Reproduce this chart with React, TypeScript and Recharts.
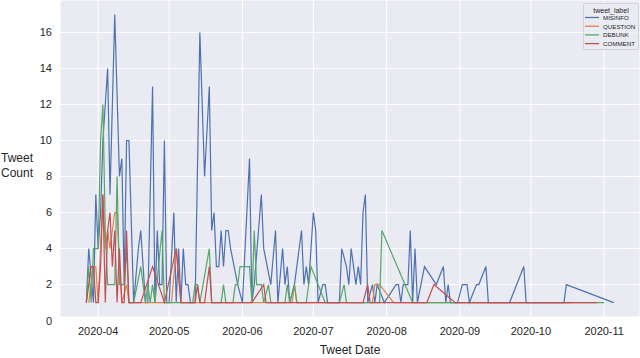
import { LineChart, Line, XAxis, YAxis, CartesianGrid } from 'recharts'

const YEAR = '2020'
const monthTicks = ['2020-04', '2020-05', '2020-06', '2020-07', '2020-08', '2020-09', '2020-10', '2020-11']
const yTicks = [0, 2, 4, 6, 8, 10, 12, 14, 16]
const seriesNames = ['MISINFO', 'QUESTION', 'DEBUNK', 'COMMENT']
const seriesColors = ['#4C72B0', '#DD8452', '#55A868', '#C44E52']

const misinfoDates = [
  '03-27', '03-28', '03-30', '03-31', '04-01', '04-02', '04-03', '04-05', '04-06', '04-08',
  '04-10', '04-11', '04-12', '04-13', '04-14', '04-16', '04-18', '04-19', '04-21', '04-22',
  '04-24', '04-25', '04-26', '04-27', '04-28', '04-29', '04-30', '05-01', '05-03', '05-04',
  '05-05', '05-06', '05-07', '05-08', '05-09', '05-10', '05-12', '05-14', '05-16', '05-18',
  '05-19', '05-20', '05-21', '05-22', '05-23', '05-24', '05-25', '05-26', '05-27', '05-30',
  '06-01', '06-04', '06-05', '06-06', '06-09', '06-10', '06-13', '06-15', '06-16', '06-18',
  '06-19', '06-20', '06-21', '06-23', '06-26', '06-27', '06-28', '06-29', '07-01', '07-02',
  '07-03', '07-05', '07-06', '07-07', '07-12', '07-13', '07-15', '07-16', '07-17', '07-19',
  '07-20', '07-21', '07-22', '07-23', '07-24', '07-26', '07-27', '07-28', '07-31', '08-05',
  '08-06', '08-07', '08-08', '08-10', '08-11', '08-12', '08-13', '08-14', '08-17', '08-22',
  '08-25', '08-26', '08-27', '08-28', '08-31', '09-02', '09-04', '09-05', '09-08', '09-09',
  '09-12', '09-13', '09-22', '09-28', '09-29', '10-15', '10-16', '11-05',
]
const misinfoCounts = [
  1, 4, 1, 7, 4, 6, 10, 14, 7, 17,
  8, 9, 2, 10, 10, 1, 4, 5, 1, 1,
  13, 1, 5, 2, 2, 10, 1, 1, 6, 1,
  4, 1, 4, 2, 2, 1, 1, 16, 8, 13,
  5, 6, 3, 3, 5, 3, 5, 5, 4, 2,
  1, 9, 1, 2, 7, 4, 2, 5, 1, 4,
  2, 3, 1, 2, 5, 2, 3, 2, 6, 5,
  1, 2, 2, 1, 1, 4, 3, 2, 4, 2,
  3, 2, 6, 7, 1, 2, 1, 2, 1, 2,
  2, 1, 2, 2, 5, 1, 4, 1, 3, 2,
  3, 1, 2, 1, 1, 2, 2, 1, 2, 2,
  3, 1, 1, 3, 1, 1, 2, 1,
]

const questionDates = [
  '03-28', '03-30', '03-31', '04-01', '04-02', '04-03', '04-04', '04-05', '04-06', '04-07',
  '04-08', '04-09', '04-10', '04-11', '04-13', '04-14', '04-21', '05-02', '05-04', '05-06',
  '05-31', '06-22', '06-23', '06-24', '07-26', '07-27', '07-29', '08-04', '09-08', '10-18',
]
const questionCounts = [
  1, 3, 3, 1, 4, 7, 4, 5, 4, 5,
  6, 6, 3, 1, 2, 1, 1, 1, 4, 1,
  1, 1, 2, 1, 1, 2, 2, 1, 1, 1,
]

const debunkDates = [
  '03-27', '03-28', '03-29', '03-30', '03-31', '04-01', '04-02', '04-03', '04-04', '04-05',
  '04-06', '04-08', '04-09', '04-10', '04-12', '04-13', '04-14', '04-16', '04-19', '04-21',
  '04-22', '04-23', '04-24', '04-25', '04-28', '04-29', '05-01', '05-11', '05-12', '05-13',
  '05-14', '05-18', '05-19', '05-23', '05-24', '05-25', '05-28', '05-29', '05-30', '05-31',
  '06-04', '06-05', '06-06', '06-07', '06-09', '06-10', '06-12', '06-13', '06-19', '06-20',
  '06-21', '06-23', '06-24', '06-28', '06-30', '07-06', '07-12', '07-14', '07-15', '07-29',
  '07-30', '08-12', '08-29', '09-28', '11-01',
]
const debunkCounts = [
  1, 3, 1, 4, 4, 4, 10, 12, 5, 2,
  2, 2, 8, 2, 2, 4, 1, 1, 3, 1,
  2, 1, 2, 1, 5, 1, 1, 1, 2, 2,
  1, 4, 1, 1, 2, 1, 1, 2, 2, 3,
  3, 1, 5, 2, 2, 1, 2, 1, 1, 2,
  1, 2, 1, 1, 3, 1, 1, 2, 1, 1,
  5, 1, 1, 1, 1,
]

const commentDates = [
  '03-27', '03-29', '03-30', '03-31', '04-01', '04-02', '04-03', '04-04', '04-05', '04-06',
  '04-07', '04-08', '04-09', '04-10', '04-11', '04-12', '04-13', '04-14', '04-19', '04-24',
  '04-29', '05-04', '05-06', '05-12', '05-13', '05-14', '05-16', '05-18', '05-19', '06-05',
  '06-10', '06-11', '07-22', '07-24', '07-25', '08-18', '08-21', '08-30', '10-29',
]
const commentCounts = [
  1, 3, 3, 1, 1, 3, 7, 1, 5, 6,
  3, 5, 1, 4, 1, 1, 5, 1, 1, 3,
  1, 4, 1, 1, 2, 1, 1, 3, 1, 1,
  2, 1, 1, 2, 1, 1, 2, 1, 1,
]

const toTime = (md: string) => Date.parse(`${YEAR}-${md}T00:00:00Z`)
const toPoints = (dates: string[], counts: number[]) =>
  dates.map((d, i) => ({ t: toTime(d), count: counts[i] }))

const series = [
  toPoints(misinfoDates, misinfoCounts),
  toPoints(questionDates, questionCounts),
  toPoints(debunkDates, debunkCounts),
  toPoints(commentDates, commentCounts),
]

const allTimes = series.flat().map(p => p.t)
const tMin = Math.min(...allTimes)
const tMax = Math.max(...allTimes)
const pad = (tMax - tMin) * 0.05
const xTicks = monthTicks.map(m => Date.parse(`${m}-01T00:00:00Z`))

const font = '"Liberation Sans", Arial, sans-serif'
const textColor = '#262626'

const fmtMonth = (t: number) => {
  const d = new Date(t)
  return `${d.getUTCFullYear()}-${String(d.getUTCMonth() + 1).padStart(2, '0')}`
}

export default function App() {
  return (
    <div style={{ position: 'absolute', left: 0, top: 0, width: 640, height: 358, background: '#fff', fontFamily: font }}>
      <LineChart width={640} height={358} margin={{ top: 0, right: 0, left: 0, bottom: 0 }}>
        <CartesianGrid stroke="#ffffff" strokeWidth={1} fill="#EAEAF2" />
        <XAxis
          type="number"
          dataKey="t"
          domain={[tMin - pad, tMax + pad]}
          ticks={xTicks}
          tickFormatter={fmtMonth}
          axisLine={false}
          tickLine={false}
          tickMargin={4}
          height={41}
          allowDataOverflow
          tick={{ fontSize: 11, fill: textColor, fontFamily: font }}
        />
        <YAxis
          type="number"
          dataKey="count"
          domain={[0.2, 17.8]}
          ticks={yTicks}
          axisLine={false}
          tickLine={false}
          width={60}
          allowDataOverflow
          tick={{ fontSize: 11, fill: textColor, fontFamily: font }}
        />
        {series.map((data, i) => (
          <Line
            key={seriesNames[i]}
            data={data}
            dataKey="count"
            name={seriesNames[i]}
            type="linear"
            stroke={seriesColors[i]}
            strokeWidth={1.2}
            dot={false}
            isAnimationActive={false}
          />
        ))}
      </LineChart>

      {/* axis titles */}
      <div style={{ position: 'absolute', left: 0, top: 151, width: 34, textAlign: 'center', fontSize: 12, lineHeight: '15px', color: textColor }}>
        Tweet<br />Count
      </div>
      <div style={{ position: 'absolute', left: 60, top: 342, width: 580, textAlign: 'center', fontSize: 12, lineHeight: '16px', color: textColor }}>
        Tweet Date
      </div>

      {/* legend */}
      <div style={{
        position: 'absolute', left: 583, top: 3, width: 56, height: 47, boxSizing: 'border-box',
        background: 'rgba(234,234,242,0.8)', border: '1px solid rgba(204,204,204,0.8)', borderRadius: 2,
        color: textColor,
      }}>
        <div style={{ position: 'absolute', left: 0, top: 2, width: '100%', textAlign: 'center', fontSize: 7, lineHeight: '9px' }}>
          tweet_label
        </div>
        <svg width={16} height={47} style={{ position: 'absolute', left: 0, top: -1 }}>
          {seriesNames.map((name, i) => (
            <line key={name} x1={1} x2={15} y1={14.5 + i * 8.7} y2={14.5 + i * 8.7} stroke={seriesColors[i]} strokeWidth={1.3} />
          ))}
        </svg>
        {seriesNames.map((name, i) => (
          <div key={name} style={{ position: 'absolute', left: 19, top: 9 + i * 8.7, fontSize: 6.2, lineHeight: '9px' }}>
            {name}
          </div>
        ))}
      </div>
    </div>
  )
}
